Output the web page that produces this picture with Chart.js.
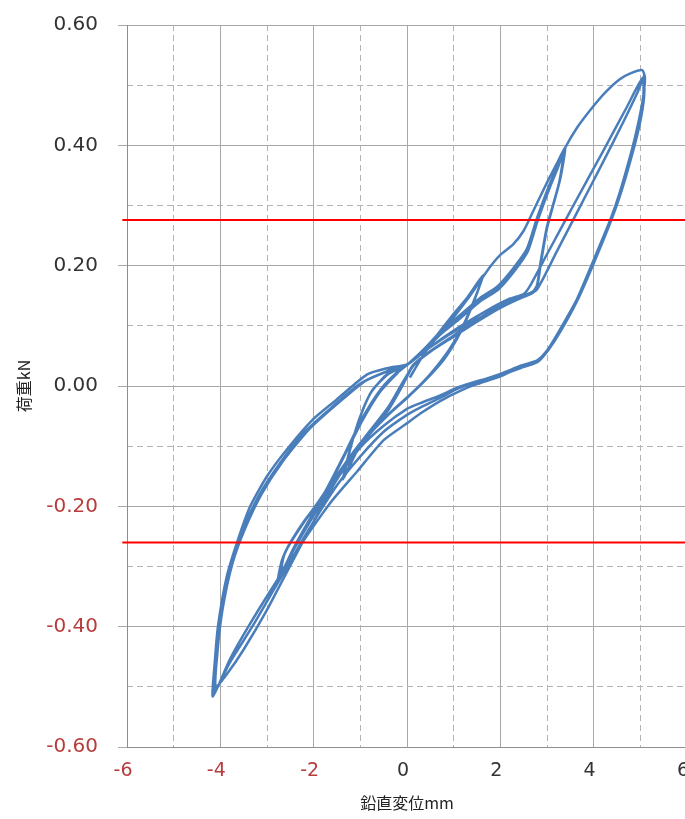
<!DOCTYPE html>
<html>
<head>
<meta charset="utf-8">
<script src="https://cdn.jsdelivr.net/npm/chart.js@4.4.1/dist/chart.umd.min.js"></script>
<style>
  html, body { margin: 0; padding: 0; background: #fff; overflow: hidden; width: 685px; height: 819px; }
  #wrap { position: relative; width: 700px; height: 819px; }
</style>
</head>
<body>
<div id="wrap"><canvas id="chart"></canvas></div>
<script>
// 鉛直変位 (mm) / 荷重 (kN) — cyclic loading record, one array pair per cycle
const loop1Disp = [0.06, 0.3, 0.6, 0.95, 1.3, 1.63, 1.45, 1.2, 0.9, 0.5, 0.1, -0.3, -0.7, -1.05, -1.37, -1.22, -1.02, -0.78, -0.45, 0];
const loop1Load = [0.014, 0.045, 0.08, 0.115, 0.148, 0.184, 0.145, 0.1, 0.06, 0.02, -0.012, -0.04, -0.07, -0.105, -0.155, -0.105, -0.055, -0.012, 0.018, 0.035];

const loop2Disp = [0.4, 0.8, 1.2, 1.6, 1.42, 1.15, 0.8, 0.4, 0, -0.4, -0.8, -1.1, -1.35, -1.2, -1.0, -0.75, -0.4, 0];
const loop2Load = [0.062, 0.098, 0.135, 0.178, 0.138, 0.09, 0.045, 0.01, -0.02, -0.048, -0.08, -0.112, -0.15, -0.1, -0.05, -0.008, 0.02, 0.035];

const loop3Disp = [0.45, 0.9, 1.35, 1.75, 2.0, 2.27, 2.5, 2.7, 3.0, 3.2, 3.39,
  3.28, 3.0, 2.85, 2.79, 2.7, 2.4, 2.0, 1.5, 1.0, 0.5, 0.15, -0.1, -0.4, -0.8, -1.2, -1.6, -2.0, -2.4, -2.76,
  -2.68, -2.5, -2.2, -1.8, -1.4, -0.96, -0.58, -0.2, 0];
const loop3Load = [0.068, 0.105, 0.15, 0.195, 0.218, 0.235, 0.258, 0.29, 0.338, 0.368, 0.396,
  0.343, 0.265, 0.2, 0.168, 0.155, 0.145, 0.13, 0.107, 0.082, 0.057, 0.035, 0.005, -0.035, -0.075, -0.115, -0.16, -0.21, -0.265, -0.321,
  -0.29, -0.26, -0.225, -0.185, -0.125, -0.058, -0.01, 0.022, 0.035];

const loop4Disp = [0.35, 0.71, 1.14, 1.56, 1.93, 2.27, 2.57, 2.79, 3.05, 3.22, 3.38,
  3.27, 3.0, 2.86, 2.8, 2.7, 2.4, 2.0, 1.5, 1.0, 0.5, 0.15, -0.1, -0.4, -0.8, -1.2, -1.6, -2.0, -2.4, -2.72,
  -2.65, -2.48, -2.18, -1.78, -1.38, -0.95, -0.56, -0.2, 0];
const loop4Load = [0.06, 0.089, 0.116, 0.144, 0.163, 0.192, 0.225, 0.278, 0.332, 0.362, 0.392,
  0.34, 0.262, 0.2, 0.17, 0.157, 0.148, 0.134, 0.11, 0.084, 0.058, 0.036, 0.0, -0.04, -0.08, -0.12, -0.165, -0.215, -0.268, -0.316,
  -0.285, -0.258, -0.222, -0.18, -0.12, -0.052, -0.006, 0.024, 0.035];

const loop5Disp = [0.36, 0.72, 1.15, 1.57, 1.95, 2.29, 2.59, 2.8, 3.06, 3.22, 3.36,
  3.26, 2.99, 2.85, 2.78, 2.66, 2.38, 1.98, 1.48, 0.98, 0.48, 0.12, -0.12, -0.42, -0.82, -1.22, -1.62, -2.02, -2.4, -2.7,
  -2.63, -2.45, -2.15, -1.75, -1.35, -0.93, -0.55, -0.2, 0];
const loop5Load = [0.058, 0.086, 0.113, 0.141, 0.16, 0.19, 0.224, 0.275, 0.33, 0.36, 0.388,
  0.338, 0.26, 0.198, 0.166, 0.154, 0.146, 0.132, 0.108, 0.082, 0.056, 0.034, -0.002, -0.042, -0.082, -0.123, -0.168, -0.218, -0.268, -0.31,
  -0.28, -0.255, -0.22, -0.175, -0.115, -0.05, -0.004, 0.024, 0.035];

const loop6Disp = [0.35, 0.71, 1.14, 1.56, 1.93, 2.27, 2.57, 2.79, 3.05, 3.22, 3.39, 3.65, 3.92, 4.25, 4.56, 4.8, 5.04,
  5.1, 5.05, 4.95, 4.82, 4.56, 4.35, 3.96, 3.64, 3.28, 3.02, 2.79, 2.42, 2.0, 1.5, 1.14, 0.71, 0.3, 0, -0.5, -1.07, -1.6, -2.2, -2.8, -3.4, -3.8, -4.16,
  -4.12, -4.05, -3.86, -3.62, -3.36, -3.0, -2.57, -2.01, -1.5, -0.86, -0.4, 0];
const loop6Load = [0.06, 0.09, 0.118, 0.146, 0.165, 0.195, 0.228, 0.28, 0.334, 0.365, 0.396, 0.43, 0.458, 0.488, 0.51, 0.52, 0.525,
  0.512, 0.475, 0.435, 0.393, 0.322, 0.275, 0.202, 0.144, 0.094, 0.061, 0.041, 0.031, 0.016, 0.003, -0.008, -0.025, -0.045, -0.062, -0.09, -0.142, -0.19, -0.255, -0.325, -0.4, -0.455, -0.516,
  -0.46, -0.399, -0.316, -0.255, -0.2, -0.15, -0.105, -0.055, -0.022, 0.019, 0.03, 0.036];

const loop7Disp = [0.45, 1.0, 1.6, 2.1, 2.5, 2.78, 3.2, 3.7, 4.2, 4.63, 4.95, 5.08,
  5.08, 5.0, 4.86, 4.6, 4.38, 4.0, 3.67, 3.3, 3.04, 2.8, 2.45, 2.0, 1.5, 1.1, 0.7, 0.3, 0, -0.5, -1.0, -1.5, -2.1, -2.7, -3.3, -3.8, -4.12,
  -4.07, -3.98, -3.78, -3.52, -3.18, -2.72, -2.2, -1.62, -1.0, -0.5, 0];
const loop7Load = [0.062, 0.09, 0.115, 0.135, 0.148, 0.16, 0.222, 0.297, 0.372, 0.438, 0.49, 0.515,
  0.48, 0.44, 0.395, 0.325, 0.278, 0.205, 0.147, 0.096, 0.063, 0.043, 0.034, 0.02, 0.007, -0.004, -0.02, -0.035, -0.048, -0.076, -0.117, -0.165, -0.238, -0.318, -0.398, -0.46, -0.508,
  -0.45, -0.38, -0.3, -0.24, -0.183, -0.128, -0.077, -0.036, 0.004, 0.022, 0.035];

const loop8Disp = [0.5, 1.1, 1.7, 2.2, 2.5, 2.64, 3.0, 3.6, 4.2, 4.7, 5.05,
  5.06, 4.97, 4.84, 4.58, 4.36, 3.98, 3.65, 3.3, 3.03, 2.8, 2.44, 2.0, 1.5, 1.1, 0.7, 0.3, 0, -0.5, -1.0, -1.5, -2.0, -2.5, -3.0, -3.5, -3.85, -4.1,
  -4.06, -3.95, -3.74, -3.47, -3.12, -2.66, -2.1, -1.5, -0.9, -0.45, 0];
const loop8Load = [0.065, 0.097, 0.125, 0.145, 0.153, 0.167, 0.219, 0.305, 0.39, 0.462, 0.512,
  0.47, 0.43, 0.39, 0.32, 0.272, 0.2, 0.142, 0.092, 0.06, 0.04, 0.03, 0.018, 0.008, -0.002, -0.016, -0.028, -0.038, -0.066, -0.102, -0.155, -0.225, -0.298, -0.372, -0.438, -0.478, -0.5,
  -0.44, -0.37, -0.295, -0.237, -0.18, -0.125, -0.072, -0.03, 0.008, 0.024, 0.035];

// 基準荷重ライン (kN) and the displacement span they are drawn over
const limitLoads = [0.276, -0.26];
const limitSpan = [-6.1, 6.5];

// axis tick settings
const xTicks = { min: -6, max: 6, major: 2, minor: 1 };
const yTicks = { min: -0.6, max: 0.6, major: 0.2, minor: 0.1 };

const loops = [
  [loop1Disp, loop1Load], [loop2Disp, loop2Load], [loop3Disp, loop3Load], [loop4Disp, loop4Load],
  [loop5Disp, loop5Load], [loop6Disp, loop6Load], [loop7Disp, loop7Load], [loop8Disp, loop8Load]
];
const curve = loops.flatMap(([xs, ys]) => xs.map((x, i) => ({ x: x, y: ys[i] })));

const RED = '#b83c3c';
const DARK = '#333333';
const tickFont = { family: 'DejaVu Sans', size: 19 };
const titleFont = { family: 'Noto Sans CJK JP', size: 16 };

const datasets = [{
  label: '荷重',
  data: curve,
  showLine: true,
  borderColor: '#4a7ebb',
  borderWidth: 2.5,
  pointRadius: 0,
  tension: 0.2,
  fill: false,
  order: 2
}];
limitLoads.forEach(v => datasets.push({
  label: '基準 ' + v,
  data: limitSpan.map(x => ({ x: x, y: v })),
  showLine: true,
  borderColor: '#ff0000',
  borderWidth: 2,
  pointRadius: 0,
  clip: false,
  order: 1
}));

const isOddStep = (v, step) => Math.round(v / step) % 2 !== 0;

new Chart(document.getElementById('chart'), {
  type: 'scatter',
  data: { datasets: datasets },
  options: {
    responsive: true,
    maintainAspectRatio: false,
    animation: false,
    layout: { padding: { top: 25, right: 13, bottom: 0, left: 0 } },
    plugins: { legend: { display: false }, tooltip: { enabled: false } },
    scales: {
      x: {
        type: 'linear', position: 'bottom',
        min: xTicks.min, max: xTicks.max,
        ticks: {
          stepSize: xTicks.major,
          font: tickFont,
          color: c => (c.tick && c.tick.value < 0 ? RED : DARK),
          padding: 13,
          labelOffset: -4,
          callback: v => String(v)
        },
        grid: { color: '#a8a8a8', lineWidth: 1, drawTicks: false },
        border: { color: '#8e8e8e' },
        title: { display: true, text: '鉛直変位mm', font: titleFont, color: '#222', padding: { top: 0, bottom: 6 } },
        afterFit: s => { s.height = 72; s.paddingLeft = 0; s.paddingRight = 0; }
      },
      xMinor: {
        type: 'linear', position: 'bottom',
        min: xTicks.min, max: xTicks.max,
        ticks: { display: false, stepSize: xTicks.minor },
        grid: { color: c => (isOddStep(c.tick.value, xTicks.minor) ? '#b4b4b4' : 'rgba(0,0,0,0)'), lineWidth: 1, drawTicks: false },
        border: { display: false, dash: [6, 4] },
        afterFit: s => { s.height = 0; s.paddingLeft = 0; s.paddingRight = 0; }
      },
      y: {
        type: 'linear', position: 'left',
        min: yTicks.min, max: yTicks.max,
        ticks: {
          stepSize: yTicks.major,
          font: { family: 'DejaVu Sans', size: 20 },
          color: c => (c.tick && c.tick.value < -1e-9 ? RED : DARK),
          padding: 20,
          callback: v => (Math.abs(v) < 1e-9 ? 0 : v).toFixed(2)
        },
        grid: { color: '#a8a8a8', lineWidth: 1, drawTicks: true, tickLength: 9 },
        border: { color: '#8e8e8e' },
        title: { display: true, text: '荷重kN', font: titleFont, color: '#222', padding: { top: 14, bottom: 0 } },
        afterFit: s => { s.width = 127; s.paddingTop = 0; s.paddingBottom = 0; }
      },
      yMinor: {
        type: 'linear', position: 'left',
        min: yTicks.min, max: yTicks.max,
        ticks: { display: false, stepSize: yTicks.minor },
        grid: { color: c => (isOddStep(c.tick.value, yTicks.minor) ? '#b4b4b4' : 'rgba(0,0,0,0)'), lineWidth: 1, drawTicks: false },
        border: { display: false, dash: [6, 4] },
        afterFit: s => { s.width = 0; s.paddingTop = 0; s.paddingBottom = 0; }
      }
    }
  }
});
</script>
</body>
</html>
